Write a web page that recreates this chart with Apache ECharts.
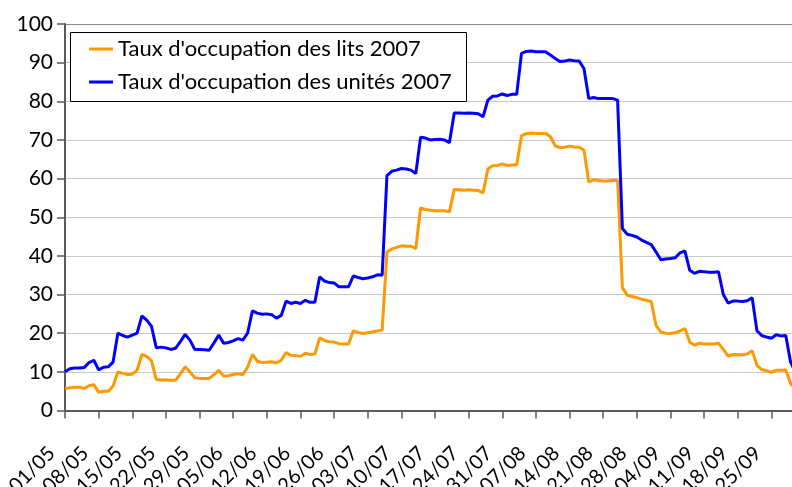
<!DOCTYPE html>
<html>
<head>
<meta charset="utf-8">
<script src="https://cdn.jsdelivr.net/npm/echarts@6/dist/echarts.min.js"></script>
<style>
html,body{margin:0;padding:0;background:#fff;}
#c{width:792px;height:487px;}
</style>
</head>
<body>
<div id="c"></div>
<script>
// Days from 01/05 to 30/09 (2007)
const months = [[5, 31], [6, 30], [7, 31], [8, 31], [9, 30]];
const categories = [];
months.forEach(function (m) {
  for (let d = 1; d <= m[1]; d++) {
    categories.push((d < 10 ? '0' : '') + d + '/' + (m[0] < 10 ? '0' : '') + m[0]);
  }
});

const seriesNames = ["Taux d'occupation des lits 2007", "Taux d'occupation des unités 2007"];

const lits2007 = [
  5.6, 5.9, 6, 6, 5.7, 6.4, 6.7, 4.7, 5, 5,
  6.3, 10, 9.6, 9.3, 9.4, 10.4, 14.5, 14, 12.9, 8,
  7.9, 7.9, 7.8, 7.8, 9.5, 11.3, 10, 8.5, 8.3, 8.3,
  8.3, 9.3, 10.4, 8.9, 9, 9.3, 9.5, 9.3, 11.2, 14.5,
  12.8, 12.4, 12.5, 12.6, 12.3, 13, 15, 14.3, 14.2, 14,
  14.8, 14.5, 14.6, 18.8, 18.1, 17.8, 17.7, 17.3, 17.2, 17.2,
  20.6, 20.2, 19.9, 20.1, 20.3, 20.6, 20.8, 41, 41.8, 42.2,
  42.6, 42.5, 42.5, 41.9, 52.4, 52, 51.8, 51.7, 51.7, 51.7,
  51.4, 57.2, 57.1, 57, 57.1, 57, 56.9, 56.3, 62.5, 63.3,
  63.4, 63.8, 63.4, 63.5, 63.6, 71.1, 71.6, 71.8, 71.7, 71.7,
  71.7, 70.9, 68.5, 68, 68.1, 68.4, 68.2, 68.1, 67.4, 59.1,
  59.7, 59.5, 59.4, 59.4, 59.6, 59.5, 31.8, 29.8, 29.5, 29.2,
  28.8, 28.5, 28.2, 22, 20.3, 20, 19.9, 20.1, 20.6, 21.2,
  17.7, 16.9, 17.4, 17.2, 17.2, 17.2, 17.4, 15.8, 14.1, 14.5,
  14.4, 14.4, 14.6, 15.5, 11.7, 10.6, 10.3, 9.9, 10.4, 10.4,
  10.5, 7, 5.5
];

const unites2007 = [
  10, 10.8, 11, 11, 11.1, 12.4, 13, 10.5, 11.2, 11.3,
  12.5, 20, 19.4, 19, 19.5, 20, 24.5, 23.4, 21.8, 16.2,
  16.4, 16.2, 15.8, 16.1, 17.8, 19.7, 18.2, 15.8, 15.8, 15.7,
  15.6, 17.5, 19.5, 17.4, 17.6, 18, 18.6, 18.2, 20, 25.8,
  25.2, 24.9, 25, 24.8, 23.9, 24.6, 28.3, 27.7, 28, 27.7,
  28.5, 28, 28, 34.6, 33.5, 33.1, 33, 32, 32, 32,
  34.8, 34.4, 34.1, 34.3, 34.6, 35.1, 35, 60.8, 61.9, 62.2,
  62.6, 62.5, 62.2, 61.3, 70.7, 70.5, 70, 70.1, 70.2, 70,
  69.3, 77, 77, 76.9, 77, 76.9, 76.8, 76, 80.3, 81.3,
  81.4, 81.9, 81.5, 81.8, 81.8, 92.4, 92.9, 93, 92.8, 92.8,
  92.8, 92, 91.1, 90.3, 90.4, 90.7, 90.5, 90.4, 88.5, 80.7,
  81, 80.7, 80.7, 80.7, 80.7, 80.3, 47.1, 45.6, 45.3, 44.9,
  44.1, 43.5, 42.9, 41, 39, 39.2, 39.3, 39.5, 40.8, 41.3,
  36.3, 35.5, 36, 35.9, 35.8, 35.8, 35.9, 30, 27.8, 28.3,
  28.3, 28.2, 28.4, 29.2, 20.6, 19.4, 19, 18.7, 19.6, 19.3,
  19.4, 12.5, 10
];

const yTicks = [0, 10, 20, 30, 40, 50, 60, 70, 80, 90, 100];

const FONT = 'Lato';
const chart = echarts.init(document.getElementById('c'), null, { renderer: 'canvas' });

const gridColors = yTicks.map(function (v) { return v === 100 ? '#8a8a8a' : '#c8c8c8'; });

chart.setOption({
  animation: false,
  backgroundColor: '#ffffff',
  grid: { left: 65, top: 24, right: -3.4, bottom: 76.5, containLabel: false, outerBoundsMode: 'none' },
  xAxis: {
    type: 'category',
    data: categories,
    boundaryGap: false,
    axisLine: { show: true, lineStyle: { color: '#5a5a5a', width: 2 } },
    axisTick: { show: true, interval: 6, length: 8, lineStyle: { color: '#5a5a5a', width: 1.5 } },
    axisLabel: {
      interval: 6, rotate: 45, margin: 26, fontFamily: FONT, fontSize: 20, color: '#000',
      padding: [0, 19, 0, 0], hideOverlap: false
    },
    splitLine: { show: false }
  },
  yAxis: {
    type: 'value',
    min: 0, max: 100, interval: 10,
    axisLine: { show: true, lineStyle: { color: '#5a5a5a', width: 2 } },
    axisTick: { show: true, length: 8, lineStyle: { color: '#5a5a5a', width: 1.5 } },
    axisLabel: { margin: 12, fontFamily: FONT, fontSize: 21, color: '#000' },
    splitLine: { show: true, lineStyle: { color: gridColors, width: 1.2 } }
  },
  graphic: [{
    type: 'rect', z: 100, left: 70, top: 32,
    shape: { x: 0, y: 0, width: 396, height: 69 },
    style: { fill: '#fff', stroke: '#000', lineWidth: 1 }
  }],
  legend: {
    z: 200,
    orient: 'vertical',
    left: 89, top: 37,
    icon: 'rect', itemWidth: 24, itemHeight: 3,
    itemGap: 9,
    padding: 0,
    textStyle: { fontFamily: FONT, fontSize: 22, color: '#000', lineHeight: 24 },
    data: seriesNames
  },
  series: [
    {
      name: seriesNames[0], type: 'line', data: lits2007, symbol: 'none',
      lineStyle: { color: '#FF9900', width: 3 }, itemStyle: { color: '#FF9900' }
    },
    {
      name: seriesNames[1], type: 'line', data: unites2007, symbol: 'none',
      lineStyle: { color: '#0000FF', width: 3 }, itemStyle: { color: '#0000FF' }
    }
  ]
});
</script>
</body>
</html>
